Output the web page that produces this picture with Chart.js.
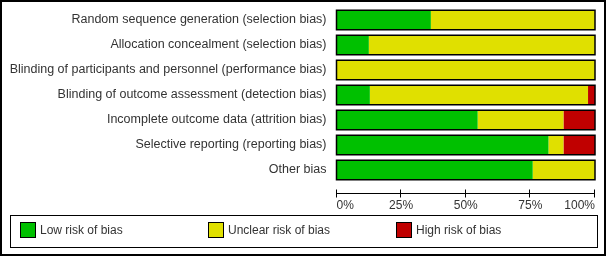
<!DOCTYPE html>
<html>
<head>
<meta charset="utf-8">
<script src="https://cdn.jsdelivr.net/npm/chart.js@4"></script>
<style>
  html, body { margin: 0; padding: 0; background: #fff; }
  #wrap { position: relative; width: 606px; height: 256px; font-family: "Liberation Sans", Arial, sans-serif; }
  #frame { position: absolute; left: 0; top: 0; width: 606px; height: 256px; box-sizing: border-box; border: 2px solid #000; pointer-events: none; }
  #legend { position: absolute; left: 10px; top: 215px; width: 588px; height: 33px; box-sizing: border-box; border: 1px solid #000; }
  .item { position: absolute; top: 6px; font-size: 12px; color: #333; line-height: 16px; white-space: nowrap; }
  .sw { display: inline-block; width: 16px; height: 16px; box-sizing: border-box; border: 1px solid #000; vertical-align: top; margin-right: 4px; }
</style>
</head>
<body>
<div id="wrap">
  <canvas id="chart" width="606" height="256"></canvas>
  <div id="legend"></div>
  <div id="frame"></div>
</div>
<script>
const domains = [
  "Random sequence generation (selection bias)",
  "Allocation concealment (selection bias)",
  "Blinding of participants and personnel (performance bias)",
  "Blinding of outcome assessment (detection bias)",
  "Incomplete outcome data (attrition bias)",
  "Selective reporting (reporting bias)",
  "Other bias"
];
const lowRisk = [36.5, 12.5, 0, 12.9, 54.6, 82.0, 75.9];
const unclearRisk = [63.5, 87.5, 100, 84.4, 33.2, 5.8, 24.1];
const highRisk = [0, 0, 0, 2.7, 12.2, 12.2, 0];
const seriesNames = ["Low risk of bias", "Unclear risk of bias", "High risk of bias"];
const seriesColors = ["#00c000", "#e0e000", "#c00000"];
const xTicks = [0, 25, 50, 75, 100];

const FONT = "'Liberation Sans', Arial, sans-serif";

// black outline round each whole row, plus the x axis line below the bars
const outlinePlugin = {
  id: "outline",
  afterDatasetsDraw(chart) {
    const ctx = chart.ctx;
    const x = chart.scales.x;
    const meta = chart.getDatasetMeta(0);
    const x0 = x.getPixelForValue(0);
    const x1 = x.getPixelForValue(100);
    ctx.save();
    ctx.strokeStyle = "#000";
    ctx.lineWidth = 1.5;
    meta.data.forEach((bar) => {
      ctx.strokeRect(x0, bar.y - bar.height / 2, x1 - x0, bar.height);
    });
    const ay = Math.round(chart.chartArea.bottom + 10) + 0.5;
    ctx.lineWidth = 1;
    ctx.beginPath();
    ctx.moveTo(x0, ay);
    ctx.lineTo(x1, ay);
    xTicks.forEach((t) => {
      const px = Math.round(x.getPixelForValue(t)) - 0.5;
      ctx.moveTo(px, ay - 4);
      ctx.lineTo(px, ay + 4);
    });
    ctx.stroke();
    ctx.restore();
  }
};

const noPad = (s) => {
  s.paddingTop = 0;
  s.paddingBottom = 0;
  s.paddingLeft = 0;
  s.paddingRight = 0;
};

new Chart(document.getElementById("chart").getContext("2d"), {
  type: "bar",
  data: {
    labels: domains,
    datasets: [lowRisk, unclearRisk, highRisk].map((d, i) => ({
      label: seriesNames[i],
      data: d,
      backgroundColor: seriesColors[i],
      borderWidth: 0,
      categoryPercentage: 1,
      barPercentage: 0.78
    }))
  },
  options: {
    indexAxis: "y",
    responsive: false,
    animation: false,
    layout: { padding: { top: 7.5, right: 11, left: 0, bottom: 0 } },
    plugins: { legend: { display: false }, tooltip: { enabled: false } },
    scales: {
      x: {
        stacked: true,
        min: 0,
        max: 100,
        afterBuildTicks: (s) => { s.ticks = xTicks.map((v) => ({ value: v })); },
        afterFit: (s) => { s.height = 256 - 182.5; noPad(s); },
        grid: { display: false, drawTicks: false },
        border: { display: false },
        ticks: {
          align: "inner",
          padding: 16,
          color: "#333",
          font: { family: FONT, size: 12 },
          callback: (v) => v + "%"
        }
      },
      y: {
        stacked: true,
        afterFit: (s) => { s.width = 336.5; noPad(s); },
        grid: { display: false, drawTicks: false },
        border: { display: false },
        ticks: {
          autoSkip: false,
          padding: 10,
          color: "#333",
          font: { family: FONT, size: 12.5 }
        }
      }
    }
  },
  plugins: [outlinePlugin]
});

const legend = document.getElementById("legend");
const legendX = [9, 197, 385];
seriesNames.forEach((name, i) => {
  const it = document.createElement("div");
  it.className = "item";
  it.style.left = legendX[i] + "px";
  it.innerHTML = '<span class="sw" style="background:' + seriesColors[i] + '"></span>' + name;
  legend.appendChild(it);
});
</script>
</body>
</html>
